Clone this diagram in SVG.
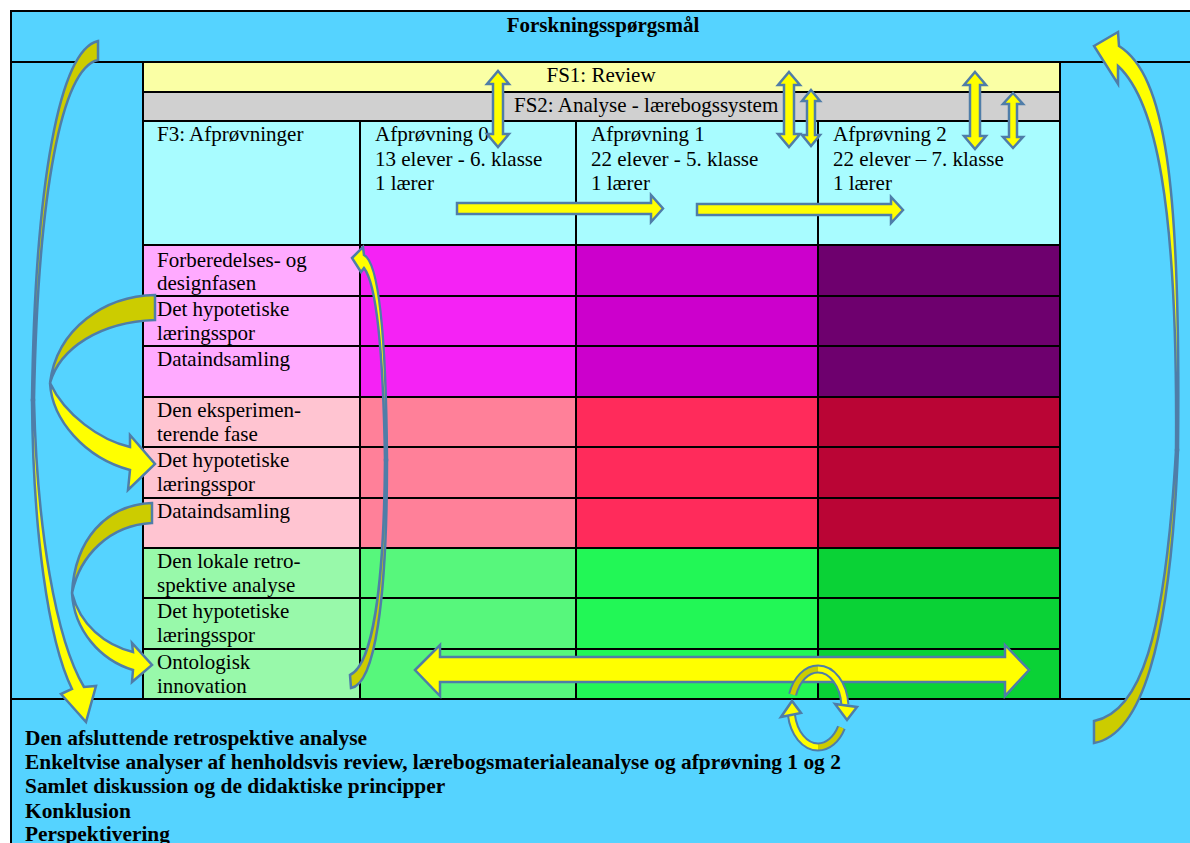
<svg xmlns="http://www.w3.org/2000/svg" width="1190" height="843" viewBox="0 0 1190 843">
<style>
  .t{font-family:"Liberation Serif","Times New Roman",serif;font-size:21px;fill:#000}
  .b{font-weight:bold}
  .lg{font-size:21.4px}
  .ln{stroke:#000;stroke-width:2;fill:none}
  .ar{fill:#FFFF00;stroke:#4F7DA8;stroke-width:2.5;stroke-linejoin:miter}
  .bk{fill:#CCCC00;stroke:#4F7DA8;stroke-width:2.5;stroke-linejoin:miter}
  .ro{fill:none;stroke:#4F7DA8;stroke-width:9}
  .ry{fill:none;stroke:#FFFF00;stroke-width:5}
  .rd{fill:none;stroke:#CCCC00;stroke-width:5}
</style>

<!-- page and outer frame -->
<rect x="0" y="0" width="1190" height="843" fill="#FFFFFF"/>
<rect x="11" y="11" width="1190" height="843" fill="#55D3FF" stroke="#000" stroke-width="2"/>

<!-- research questions heading -->
<g id="title">
  <text class="t b" x="603" y="32" text-anchor="middle">Forskningsspørgsmål</text>
</g>

<!-- FS1 band -->
<g id="fs1">
  <rect x="143" y="62" width="917" height="30" fill="#FAFFA5"/>
  <text class="t" x="601" y="82" text-anchor="middle">FS1: Review</text>
</g>

<!-- FS2 band -->
<g id="fs2">
  <rect x="143" y="92" width="917" height="29" fill="#D0D0D0"/>
  <text class="t" x="514" y="112">FS2: Analyse - lærebogssystem</text>
</g>

<!-- header row -->
<g id="header">
  <rect x="143" y="121" width="917" height="124" fill="#A8FCFF"/>
  <text class="t" x="157" y="141">F3: Afprøvninger</text>
  <text class="t"><tspan x="375" y="141">Afprøvning 0</tspan><tspan x="375" y="165.5">13 elever - 6. klasse</tspan><tspan x="375" y="190">1 lærer</tspan></text>
  <text class="t"><tspan x="591" y="141">Afprøvning 1</tspan><tspan x="591" y="165.5">22 elever - 5. klasse</tspan><tspan x="591" y="190">1 lærer</tspan></text>
  <text class="t"><tspan x="833" y="141">Afprøvning 2</tspan><tspan x="833" y="165.5">22 elever – 7. klasse</tspan><tspan x="833" y="190">1 lærer</tspan></text>
</g>

<!-- design phase rows -->
<g id="row-design">
  <rect x="143" y="245" width="217" height="152" fill="#FFAAFF"/>
  <rect x="360" y="245" width="216" height="152" fill="#F522F5"/>
  <rect x="576" y="245" width="242" height="152" fill="#CC00CC"/>
  <rect x="818" y="245" width="242" height="152" fill="#6E006E"/>
  <text class="t"><tspan x="157" y="267">Forberedelses- og</tspan><tspan x="157" y="290">designfasen</tspan></text>
  <text class="t"><tspan x="157" y="316">Det hypotetiske</tspan><tspan x="157" y="340">læringsspor</tspan></text>
  <text class="t" x="157" y="366">Dataindsamling</text>
</g>

<!-- experimenting phase rows -->
<g id="row-experiment">
  <rect x="143" y="397" width="217" height="151" fill="#FFC4D1"/>
  <rect x="360" y="397" width="216" height="151" fill="#FF8099"/>
  <rect x="576" y="397" width="242" height="151" fill="#FF2B5B"/>
  <rect x="818" y="397" width="242" height="151" fill="#BA0535"/>
  <text class="t"><tspan x="157" y="417">Den eksperimen-</tspan><tspan x="157" y="441">terende fase</tspan></text>
  <text class="t"><tspan x="157" y="467">Det hypotetiske</tspan><tspan x="157" y="491">læringsspor</tspan></text>
  <text class="t" x="157" y="518">Dataindsamling</text>
</g>

<!-- local retrospective rows -->
<g id="row-retro">
  <rect x="143" y="548" width="217" height="151" fill="#98F9AA"/>
  <rect x="360" y="548" width="216" height="151" fill="#57F77C"/>
  <rect x="576" y="548" width="242" height="151" fill="#22F756"/>
  <rect x="818" y="548" width="242" height="151" fill="#0AD236"/>
  <text class="t"><tspan x="157" y="568">Den lokale retro-</tspan><tspan x="157" y="592">spektive analyse</tspan></text>
  <text class="t"><tspan x="157" y="618">Det hypotetiske</tspan><tspan x="157" y="642">læringsspor</tspan></text>
  <text class="t"><tspan x="157" y="669">Ontologisk</tspan><tspan x="157" y="693">innovation</tspan></text>
</g>

<!-- grid lines -->
<g id="grid" class="ln">
  <line x1="11" y1="62" x2="1190" y2="62"/>
  <line x1="11" y1="699" x2="1190" y2="699"/>
  <line x1="143" y1="62" x2="143" y2="699"/>
  <line x1="1060" y1="62" x2="1060" y2="699"/>
  <line x1="143" y1="92" x2="1060" y2="92"/>
  <line x1="143" y1="121" x2="1060" y2="121"/>
  <line x1="143" y1="245" x2="1060" y2="245"/>
  <line x1="143" y1="296" x2="1060" y2="296"/>
  <line x1="143" y1="346" x2="1060" y2="346"/>
  <line x1="143" y1="397" x2="1060" y2="397"/>
  <line x1="143" y1="447" x2="1060" y2="447"/>
  <line x1="143" y1="498" x2="1060" y2="498"/>
  <line x1="143" y1="548" x2="1060" y2="548"/>
  <line x1="143" y1="598" x2="1060" y2="598"/>
  <line x1="143" y1="649" x2="1060" y2="649"/>
  <line x1="360" y1="121" x2="360" y2="699"/>
  <line x1="576" y1="121" x2="576" y2="699"/>
  <line x1="818" y1="121" x2="818" y2="699"/>
</g>

<!-- closing analysis -->
<g id="final">
  <text class="t b lg" x="25" y="745">Den afsluttende retrospektive analyse</text>
  <text class="t b lg" x="25" y="769">Enkeltvise analyser af henholdsvis review, lærebogsmaterialeanalyse og afprøvning 1 og 2</text>
  <text class="t b lg" x="25" y="793">Samlet diskussion og de didaktiske principper</text>
  <text class="t b lg" x="25" y="818">Konklusion</text>
  <text class="t b lg" x="25" y="841">Perspektivering</text>
</g>

<!-- connectors -->
<g id="connectors">
  <!-- vertical double arrows -->
  <polygon class="ar" points="498,71 509,84 503,84 503,134 509,134 498,147 487,134 493,134 493,84 487,84"/>
  <polygon class="ar" points="789,72 800,85 794,85 794,134 800,134 789,147 778,134 784,134 784,85 778,85"/>
  <polygon class="ar" points="811,90 820,101 815,101 815,135 820,135 811,146 802,135 807,135 807,101 802,101"/>
  <polygon class="ar" points="975,72 986,85 980,85 980,136 986,136 975,149 964,136 970,136 970,85 964,85"/>
  <polygon class="ar" points="1013,93 1023,104 1017,104 1017,137 1023,137 1013,148 1003,137 1009,137 1009,104 1003,104"/>

  <!-- horizontal arrows between trials -->
  <polygon class="ar" points="457,203 651,203 651,195 663,208.5 651,222 651,214 457,214"/>
  <polygon class="ar" points="697,204 891,204 891,197 903,210 891,223 891,215 697,215"/>

  <!-- long double arrow across the last row -->
  <polygon class="ar" points="415,670 440,645 440,657 1005,657 1005,645 1029,670 1005,696 1005,682 440,682 440,696"/>

  <!-- small cycle arrows -->
  <path class="ro" d="M792.6,694.7 A27,39 0 0 1 818,669 A27,39 0 0 1 844.9,704.6"/>
  <path class="rd" d="M792.6,694.7 A27,39 0 0 1 818,669"/>
  <path class="ry" d="M818,669 A27,39 0 0 1 844.9,704.6"/>
  <polygon class="ar" points="835,704 857,707 847,720"/>
  <path class="ro" d="M841.4,727.5 A27,39 0 0 1 818,747 A27,39 0 0 1 791.4,714.8"/>
  <path class="rd" d="M841.4,727.5 A27,39 0 0 1 818,747"/>
  <path class="ry" d="M818,747 A27,39 0 0 1 791.4,714.8"/>
  <polygon class="ar" points="781,717 801,713 792,701"/>

  <!-- upper left curved arrow -->
  <path class="bk" d="M155,295 C105,296 57,328 50,383 C60,348 100,322 155,320 Z"/>
  <path class="ar" d="M50,383 C52,420 85,458 130,470 L128,490 L155,464 L130,435 L130,447 C100,440 65,415 50,383 Z"/>

  <!-- lower left curved arrow -->
  <path class="bk" d="M152,503 C105,505 75,540 72,593 C80,555 110,525 152,523 Z"/>
  <path class="ar" d="M72,593 C74,630 100,660 133,670 L132,682 L152,665 L132,643 L133,652 C105,645 80,625 72,593 Z"/>

  <!-- thin arrow up the first trial column -->
  <path class="bk" d="M385,460 C384,590 372,665 350,675 L351,688 C375,684 387,600 387,460 Z"/>
  <path class="ar" d="M352,258 L363,247 L364,255 C378,262 386,330 387,460 L385,460 C383,340 375,282 364,268 L361,272 Z"/>

  <!-- outer left arrow -->
  <path class="bk" d="M98,41 C60,50 35,180 32,400 L34,400 C38,190 62,68 98,60 Z"/>
  <path class="ar" d="M32,400 C33,530 48,640 72,689 L61,694 L86,722 L96,686 L84,687 C56,640 37,530 34,400 Z"/>

  <!-- outer right arrow -->
  <path class="bk" d="M1094,743 C1140,735 1170,650 1178,450 L1176,450 C1165,640 1140,712 1094,721 Z"/>
  <path class="ar" d="M1094,46 L1118,32 L1119,46 C1165,75 1181,180 1178,450 L1176,450 C1178,200 1155,100 1118,66 L1118,84 Z"/>
</g>
</svg>
